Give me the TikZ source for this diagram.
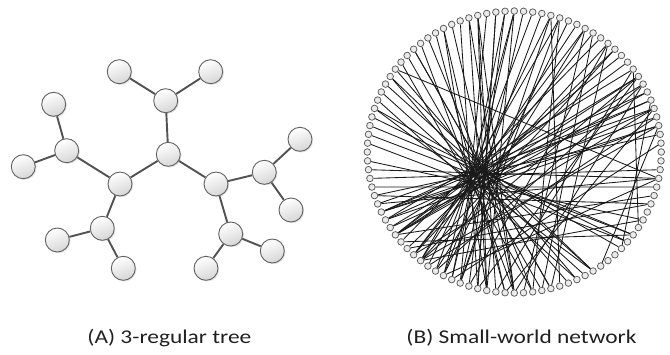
\documentclass[tikz,border=0pt]{standalone}
\usepackage{fontspec}
\setmainfont{Carlito}
\usetikzlibrary{shadows,backgrounds}
\newcommand\chordthru[3]{%
  \pgfmathsetmacro\wax{cos(3.6*#1)}%
  \pgfmathsetmacro\way{sin(3.6*#1)}%
  \pgfmathsetmacro\wdx{#2-\wax}%
  \pgfmathsetmacro\wdy{#3-\way}%
  \pgfmathsetmacro\wt{-2*(\wax*\wdx+\way*\wdy)/(\wdx*\wdx+\wdy*\wdy)}%
  \pgfmathsetmacro\wbx{\wax+\wt*\wdx}%
  \pgfmathsetmacro\wby{\way+\wt*\wdy}%
  \pgfmathsetmacro\wang{atan2(\wby,\wbx)}%
  \pgfmathtruncatemacro\wb{mod(round(\wang/3.6)+200,100)}%
  \draw[netline] (n#1) -- (n\wb);%
}
\tikzset{
  tnode/.style={circle, minimum size=24pt, inner sep=0pt, draw=black!62, line width=0.9pt,
    top color=white, bottom color=black!16, shading angle=20,
    drop shadow={opacity=0.22, shadow xshift=1.2pt, shadow yshift=-1.2pt}},
  tedge/.style={draw=black!68, line width=1.9pt},
  nnode/.style={circle, minimum size=6.6pt, inner sep=0pt, draw=black!65, fill=black!8, line width=0.75pt},
  netline/.style={draw=black!90, line width=0.85pt},
  lbl/.style={font=\fontsize{19.5}{22}\selectfont, text=black!88, anchor=base, inner sep=0pt}
}
\begin{document}
\begin{tikzpicture}[x=1pt,y=-1pt]
\useasboundingbox (0,0) rectangle (670,354);
% ---------- (A) tree ----------
\node[tnode] (t1) at (168.3,154.3) {};
\node[tnode] (t2) at (165.7,100.7) {};
\node[tnode] (t3) at (119.3,71.7) {};
\node[tnode] (t4) at (210.7,71.7) {};
\node[tnode] (t5) at (120,184) {};
\node[tnode] (t6) at (66.7,150.7) {};
\node[tnode] (t7) at (53.7,104.3) {};
\node[tnode] (t8) at (23.3,166.7) {};
\node[tnode] (t9) at (102.3,228.3) {};
\node[tnode] (t10) at (57.3,240) {};
\node[tnode] (t11) at (123.3,268.3) {};
\node[tnode] (t12) at (216,184) {};
\node[tnode] (t13) at (264.3,172.3) {};
\node[tnode] (t14) at (300,139.3) {};
\node[tnode] (t15) at (291,210) {};
\node[tnode] (t16) at (230.7,234) {};
\node[tnode] (t17) at (272.3,251) {};
\node[tnode] (t18) at (206,268.3) {};
\begin{pgfonlayer}{background}
\foreach \a/\b in {t1/t2,t2/t3,t2/t4,t1/t5,t1/t12,t5/t6,t6/t7,t6/t8,t5/t9,t9/t10,t9/t11,
  t12/t13,t13/t14,t13/t15,t12/t16,t16/t17,t16/t18}
  \draw[tedge] (\a) -- (\b);
\end{pgfonlayer}
% ---------- (B) small-world network ----------
\foreach \k in {0,...,99}
  \node[nnode] (n\k) at ({514.3+147*cos(3.6*\k)},{152-141*sin(3.6*\k)}) {};
\begin{pgfonlayer}{background}
% fan through the hub from the upper arc
\foreach \a in {2,...,49}{
  \pgfmathsetmacro\wqx{-0.25+0.07*sin(137.5*\a)}
  \pgfmathsetmacro\wqy{-0.16+0.06*sin(71.3*\a+40)}
  \chordthru{\a}{\wqx}{\wqy}
}
\foreach \a in {5,9,...,45}{
  \pgfmathsetmacro\wqx{-0.2+0.1*sin(53.1*\a+11)}
  \pgfmathsetmacro\wqy{-0.22+0.08*cos(97.7*\a)}
  \chordthru{\a}{\wqx}{\wqy}
}
% left arc
\foreach \a in {51,...,60}{
  \pgfmathsetmacro\wqx{-0.22+0.08*sin(113.3*\a)}
  \pgfmathsetmacro\wqy{-0.24+0.1*cos(61.7*\a+5)}
  \chordthru{\a}{\wqx}{\wqy}
}
% lower-left arc
\foreach \a in {61,...,72}{
  \pgfmathsetmacro\wqx{0.02+0.2*sin(113.3*\a)}
  \pgfmathsetmacro\wqy{-0.45+0.15*cos(61.7*\a+5)}
  \chordthru{\a}{\wqx}{\wqy}
}
% bottom arc
\foreach \a in {73,...,80}{
  \pgfmathsetmacro\wqx{0.3+0.12*sin(83.3*\a)}
  \pgfmathsetmacro\wqy{-0.3+0.12*cos(41.7*\a)}
  \chordthru{\a}{\wqx}{\wqy}
}
\foreach \a/\b in {40/97,6/88,10/91,27/71,29/73,3/85,95/60,92/64,26/70,30/75}
  \draw[netline] (n\a) -- (n\b);
\end{pgfonlayer}
% ---------- labels ----------
\node[lbl] (la) at (169.4,343.5) {\scalebox{1.2}[1]{(A) 3-regular tree}};
\node[lbl] (lb) at (521.5,343.5) {\scalebox{1.2}[1]{(B) Small-world network}};
\end{tikzpicture}
\end{document}
